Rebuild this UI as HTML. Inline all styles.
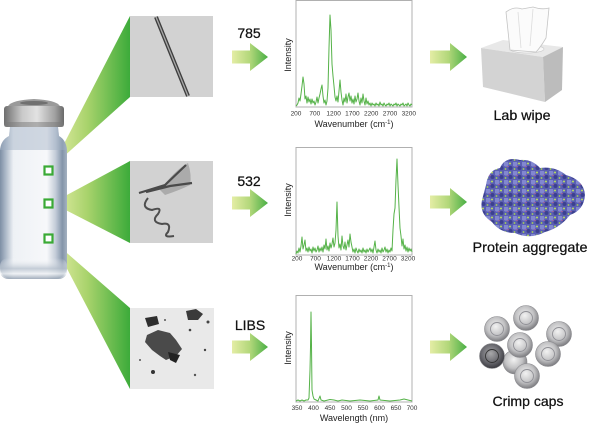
<!DOCTYPE html>
<html><head><meta charset="utf-8"><style>
html,body{margin:0;padding:0;background:#fff;}
svg{display:block;}
text{font-family:"Liberation Sans",sans-serif;}
</style></head><body>
<svg width="600" height="424" viewBox="0 0 600 424" xmlns="http://www.w3.org/2000/svg">
<defs>
  <linearGradient id="wedge" gradientUnits="objectBoundingBox" x1="0" y1="0" x2="1" y2="0">
    <stop offset="0" stop-color="#e6eea8"/>
    <stop offset="0.45" stop-color="#a9d36c"/>
    <stop offset="1" stop-color="#3cab3a"/>
  </linearGradient>
  <linearGradient id="arrow" gradientUnits="objectBoundingBox" x1="0" y1="0" x2="1" y2="0">
    <stop offset="0" stop-color="#e4eda5"/>
    <stop offset="0.5" stop-color="#b2d77a"/>
    <stop offset="1" stop-color="#49af45"/>
  </linearGradient>
  <linearGradient id="glass" x1="0" y1="0" x2="1" y2="0">
    <stop offset="0" stop-color="#7d8ea4"/>
    <stop offset="0.08" stop-color="#a9b6c6"/>
    <stop offset="0.2" stop-color="#eef1f5"/>
    <stop offset="0.7" stop-color="#f7f8fa"/>
    <stop offset="0.83" stop-color="#c3ccd8"/>
    <stop offset="0.93" stop-color="#8394a9"/>
    <stop offset="1" stop-color="#a4b1c1"/>
  </linearGradient>
  <linearGradient id="cap" x1="0" y1="0" x2="1" y2="0">
    <stop offset="0" stop-color="#6e6e6e"/>
    <stop offset="0.3" stop-color="#c9c9c9"/>
    <stop offset="0.55" stop-color="#e2e2e2"/>
    <stop offset="0.85" stop-color="#a0a0a0"/>
    <stop offset="1" stop-color="#6a6a6a"/>
  </linearGradient>
  <linearGradient id="vbot" x1="0" y1="0" x2="0" y2="1">
    <stop offset="0" stop-color="#ffffff" stop-opacity="0"/>
    <stop offset="0.5" stop-color="#b8c2ce"/>
    <stop offset="0.75" stop-color="#eef1f4"/>
    <stop offset="1" stop-color="#8e9cad"/>
  </linearGradient>
  <radialGradient id="capg" cx="0.45" cy="0.4" r="0.6">
    <stop offset="0" stop-color="#f2f2f2"/>
    <stop offset="0.6" stop-color="#c2c2c4"/>
    <stop offset="1" stop-color="#7c7c80"/>
  </radialGradient>
  <radialGradient id="capd" cx="0.45" cy="0.4" r="0.6">
    <stop offset="0" stop-color="#a8a8aa"/>
    <stop offset="0.6" stop-color="#6a6a70"/>
    <stop offset="1" stop-color="#3a3a40"/>
  </radialGradient>
  <pattern id="prot" width="9" height="9" patternUnits="userSpaceOnUse">
    <rect width="9" height="9" fill="#5a5fb2"/>
    <circle cx="2" cy="2" r="2.6" fill="#8287d0"/>
    <circle cx="6.5" cy="6" r="2" fill="#3c4090"/>
    <circle cx="6" cy="1.5" r="1" fill="#b9e05a"/>
    <circle cx="1.5" cy="7" r="0.9" fill="#a8d64e"/>
    <circle cx="4" cy="4.5" r="0.6" fill="#d05a8a"/>
  </pattern>
</defs>

<!-- wedges -->
<polygon points="52,167 130,16 130,97" fill="url(#wedge)"/>
<polygon points="52,203 130,161 130,243" fill="url(#wedge)"/>
<polygon points="52,240 130,308 130,389" fill="url(#wedge)"/>

<!-- vial -->
<path d="M10,127 L58,127 L59,136 Q66,140 67,150 L67,266 Q67,278 55,279 L12,279 Q0,278 0,266 L0,150 Q1,140 9,136 Z" fill="url(#glass)"/>
<rect x="0" y="258" width="67" height="21" rx="8" fill="url(#vbot)" opacity="0.8"/>
<path d="M10,127 L58,127 L59,136 Q66,140 67,150 L0,150 Q1,140 9,136 Z" fill="#9fb0c4" opacity="0.45"/>
<rect x="4" y="106" width="60" height="21" rx="3" fill="url(#cap)"/>
<rect x="4" y="122" width="60" height="5" rx="2" fill="#7a7a7a" opacity="0.5"/>
<path d="M8,106 Q12,100 34,99 Q56,100 60,106 Z" fill="#9a9a9a"/>
<ellipse cx="34" cy="103" rx="14" ry="2" fill="#5e5e5e" opacity="0.7"/>

<!-- squares -->
<rect x="44.5" y="166.5" width="8" height="8" fill="#fff" stroke="#3aaa35" stroke-width="2.2"/>
<rect x="44.5" y="199.5" width="8" height="8" fill="#fff" stroke="#3aaa35" stroke-width="2.2"/>
<rect x="44.5" y="234.5" width="8" height="8" fill="#fff" stroke="#3aaa35" stroke-width="2.2"/>

<!-- micrograph 1 -->
<rect x="130" y="16" width="83" height="81" fill="#d2d2d2"/>
<path d="M156,17 L188,96" stroke="#3e3e3e" stroke-width="4" fill="none"/>
<path d="M156,17 L188,96" stroke="#a8a8a8" stroke-width="1.3" fill="none"/>
<!-- micrograph 2 -->
<rect x="130" y="161" width="83" height="82" fill="#d2d2d2"/>
<path d="M160,190 Q175,170 188,163 Q192,175 190,185 Q180,190 165,195 Z" fill="#9a9a9a" opacity="0.7"/>
<path d="M139,193 L165,185 L186,165 M146,192 L170,186 L192,183" stroke="#4a4a4a" stroke-width="2.2" fill="none"/>
<path d="M148,198 Q140,208 152,210 Q163,206 158,214 Q150,222 162,224 Q172,222 168,232 Q162,238 174,236" stroke="#4e4e4e" stroke-width="2" fill="none"/>
<!-- micrograph 3 -->
<rect x="130" y="308" width="84" height="81" fill="#e9e9e9"/>
<polygon points="145,318 157,316 159,324 148,327" fill="#2e2e2e"/>
<polygon points="186,311 196,309 203,314 198,320 188,320" fill="#3a3a3a"/>
<polygon points="147,335 158,330 170,333 176,340 182,349 176,356 166,360 160,356 152,350 145,342" fill="#4a4a4a"/>
<polygon points="168,352 180,355 176,363 170,360" fill="#222"/>
<circle cx="153" cy="372" r="2" fill="#333"/>
<circle cx="190" cy="330" r="1.3" fill="#444"/>
<circle cx="205" cy="350" r="1.2" fill="#444"/>
<circle cx="140" cy="360" r="1" fill="#555"/>
<circle cx="195" cy="375" r="1.2" fill="#555"/>
<circle cx="165" cy="320" r="1" fill="#555"/>
<circle cx="208" cy="322" r="1.5" fill="#444"/>

<!-- arrows -->
<polygon points="232,50.5 250,50.5 250,43 268,57 250,71 250,63.5 232,63.5" fill="url(#arrow)"/>
<polygon points="232,196.5 250,196.5 250,189 268,203 250,217 250,209.5 232,209.5" fill="url(#arrow)"/>
<polygon points="232,340.5 250,340.5 250,333 268,347 250,361 250,353.5 232,353.5" fill="url(#arrow)"/>
<polygon points="430,50.5 450,50.5 450,43 467,57 450,71 450,63.5 430,63.5" fill="url(#arrow)"/>
<polygon points="430,195.5 450,195.5 450,188 467,202 450,216 450,208.5 430,208.5" fill="url(#arrow)"/>
<polygon points="430,340.5 450,340.5 450,333 467,347 450,361 450,353.5 430,353.5" fill="url(#arrow)"/>

<text x="249" y="38" font-size="14" text-anchor="middle" fill="#111" stroke="#111" stroke-width="0.25">785</text>
<text x="249" y="186" font-size="14" text-anchor="middle" fill="#111" stroke="#111" stroke-width="0.25">532</text>
<text x="250" y="330" font-size="14" text-anchor="middle" fill="#111" stroke="#111" stroke-width="0.25">LIBS</text>

<!-- chart frames -->
<g fill="#fff" stroke="#b0b0b0" stroke-width="1">
<rect x="296" y="0.5" width="116" height="106.5"/>
<rect x="296" y="147.5" width="116" height="107.5"/>
<rect x="296" y="295.5" width="116" height="106.5"/>
</g>

<!-- spectrum 1 -->
<polyline fill="none" stroke="#55b248" stroke-width="1" stroke-linejoin="round" points="296,106 297,105 298,103 299,98 300,101 301,94 302,86 303,77 304,84 305,99 306,96 307,103 308,97 309,102 310,99 311,104 312,99 313,103 314,101 315,105 316,102 317,97 318,103 319,98 320,94 321,89 322,85 323,96 324,103 325,100 326,105 327,101 328,88 329,48 330,15 331,30 332,64 333,76 334,86 335,97 336,101 337,96 338,102 339,91 340,80 341,92 342,100 343,105 344,98 345,102 346,94 347,103 348,97 349,93 350,101 351,96 352,103 353,99 354,104 355,96 356,102 357,99 358,93 359,101 360,105 361,98 362,103 363,94 364,101 365,105 366,98 367,104 368,101 369,105 370,103 371,106 372,103 373,105 374,104 375,106 376,103 377,105 378,104 379,106 380,102 381,105 382,104 383,106 384,103 385,105 386,106 387,104 388,105 389,103 390,106 391,104 392,105 393,106 394,104 395,105 396,103 397,106 398,104 399,105 400,106 401,104 402,105 403,103 404,106 405,105 406,104 407,106 408,103 409,105 410,106 411,104 412,105"/>
<!-- spectrum 2 -->
<polyline fill="none" stroke="#55b248" stroke-width="1" stroke-linejoin="round" points="296,254 297,251 298,253 299,248 300,252 301,246 302,237 303,249 304,245 305,240 306,251 307,248 308,252 309,247 310,251 311,249 312,253 313,247 314,251 315,248 316,252 317,250 318,246 319,252 320,248 321,251 322,247 323,252 324,245 325,249 326,239 327,250 328,246 329,251 330,243 331,248 332,244 333,238 334,247 335,243 336,230 337,202 338,236 339,248 340,244 341,250 342,236 343,246 344,249 345,242 346,250 347,245 348,240 349,247 350,234 351,242 352,247 353,252 354,249 355,253 356,248 357,251 358,253 359,249 360,252 361,250 362,253 363,248 364,252 365,250 366,253 367,249 368,252 369,250 370,248 371,252 372,249 373,253 374,247 375,241 376,250 377,253 378,249 379,252 380,250 381,253 382,248 383,252 384,250 385,247 386,252 387,249 388,253 389,250 390,252 391,248 392,251 393,230 394,214 395,208 396,180 397,159 398,185 399,207 400,228 401,236 402,246 403,239 404,249 405,245 406,251 407,247 408,252 409,248 410,251 411,249 412,252"/>
<!-- spectrum 3 -->
<polyline fill="none" stroke="#55b248" stroke-width="1" stroke-linejoin="round" points="296,401 298,400 300,401 302,400 304,401 306,400 308,400 309,398 310,370 310.5,347 311,312 311.5,345 312,390 313,396 314,399 316,400 318,401 320,396 321,400 324,401 328,400 330,399.5 334,400 338,401 342,400 350,401 360,400 370,401 378,400 379,396 380,400 390,401 400,400 404,399 408,400 412,401"/>

<!-- tick labels -->
<g font-size="6.5" fill="#333" text-anchor="middle">
<text x="296" y="115.5">200</text><text x="314.8" y="115.5">700</text><text x="333.6" y="115.5">1200</text><text x="352.4" y="115.5">1700</text><text x="371.2" y="115.5">2200</text><text x="390" y="115.5">2700</text><text x="408.8" y="115.5">3200</text>
<text x="297" y="260.5">200</text><text x="315.5" y="260.5">700</text><text x="334" y="260.5">1200</text><text x="352.5" y="260.5">1700</text><text x="371" y="260.5">2200</text><text x="389.5" y="260.5">2700</text><text x="408" y="260.5">3200</text>
<text x="297" y="410">350</text><text x="313.5" y="410">400</text><text x="330" y="410">450</text><text x="346.5" y="410">500</text><text x="363" y="410">550</text><text x="379.5" y="410">600</text><text x="396" y="410">650</text><text x="412" y="410">700</text>
</g>
<g font-size="9" fill="#222" text-anchor="middle">
<text x="354" y="127">Wavenumber (cm<tspan font-size="6" dy="-3">-1</tspan><tspan dy="3">)</tspan></text>
<text x="354" y="270">Wavenumber (cm<tspan font-size="6" dy="-3">-1</tspan><tspan dy="3">)</tspan></text>
<text x="354" y="421">Wavelength (nm)</text>
<text transform="translate(291,55) rotate(-90)">Intensity</text>
<text transform="translate(291,200) rotate(-90)">Intensity</text>
<text transform="translate(291,348) rotate(-90)">Intensity</text>
</g>

<!-- tissue box -->
<polygon points="481,48 503,40 563,47 543,57" fill="#e8e8e8"/>
<ellipse cx="527" cy="49" rx="17" ry="4" fill="#f8f8f8" stroke="#c8c8c8" stroke-width="0.6"/>
<polygon points="481,48 543,57 545,102 483,87" fill="#d3d3d3"/>
<polygon points="543,57 563,47 562,90 545,102" fill="#bcbcbc"/>
<path d="M510,50 L506,12 Q514,6 522,9 L533,7 Q542,10 549,8 L546,38 Q540,48 536,52 Z" fill="#fbfbfb" stroke="#c4c4c4" stroke-width="0.8"/>
<path d="M518,12 L521,48 M533,9 L530,46" stroke="#dcdcdc" stroke-width="0.8"/>

<!-- protein -->
<path d="M486,185 Q488,170 500,168 Q505,156 520,160 Q532,159 540,168 Q555,166 566,175 Q584,180 585,195 Q584,210 570,215 Q560,228 545,232 Q530,240 515,233 Q500,233 492,222 Q479,214 482,200 Z" fill="url(#prot)"/>

<!-- crimp caps -->
<g stroke="#8a8a8e" stroke-width="0.6">
<circle cx="515" cy="362" r="12" fill="url(#capg)"/>
<circle cx="497" cy="329" r="12.5" fill="url(#capg)"/>
<circle cx="526" cy="318" r="12.5" fill="url(#capg)"/>
<circle cx="559" cy="334" r="12.5" fill="url(#capg)"/>
<circle cx="548" cy="354" r="12.5" fill="url(#capg)"/>
<circle cx="520" cy="345" r="12.5" fill="url(#capg)"/>
<circle cx="492" cy="356" r="12.5" fill="url(#capd)"/>
<circle cx="527" cy="376" r="12.5" fill="url(#capg)"/>
</g>
<g fill="none" stroke="#909096" stroke-width="0.9">
<circle cx="497" cy="329" r="6.5"/><circle cx="526" cy="318" r="6.5"/><circle cx="559" cy="334" r="6.5"/>
<circle cx="548" cy="354" r="6.5"/><circle cx="520" cy="345" r="6.5"/><circle cx="492" cy="356" r="6.5" stroke="#333"/>
<circle cx="527" cy="376" r="6.5"/>
</g>

<g font-size="14" fill="#111" stroke="#111" stroke-width="0.25" text-anchor="middle">
<text x="522" y="120" textLength="57" lengthAdjust="spacingAndGlyphs">Lab wipe</text>
<text x="530" y="252" textLength="115" lengthAdjust="spacingAndGlyphs">Protein aggregate</text>
<text x="528" y="406" textLength="71" lengthAdjust="spacingAndGlyphs">Crimp caps</text>
</g>
</svg>
</body></html>
